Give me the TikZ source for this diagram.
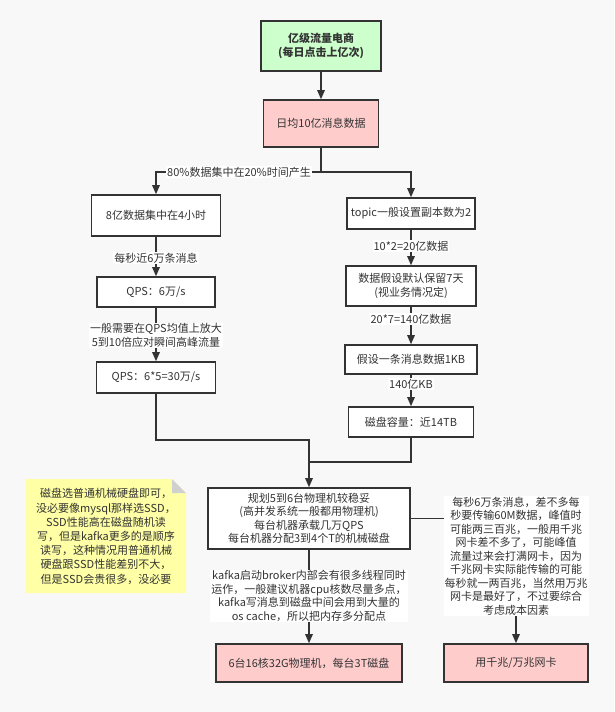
\documentclass[tikz,border=0pt]{standalone}
\usepackage{fontspec}
\setmainfont{Noto Sans CJK SC}
\usetikzlibrary{arrows.meta,shapes.geometric}
\definecolor{bgc}{RGB}{248,248,248}
\definecolor{edgec}{RGB}{51,51,51}
\definecolor{txtc}{RGB}{51,51,51}
\definecolor{greenf}{RGB}{204,255,204}
\definecolor{pinkf}{RGB}{255,204,204}
\definecolor{notef}{RGB}{255,255,166}
\definecolor{foldc}{RGB}{208,208,208}
\tikzset{
  box/.style={draw=edgec, line width=1.6pt, fill=white, align=center, text=txtc, inner sep=2pt, font=\fontsize{11}{13.4}\selectfont},
  lbl/.style={fill=white, align=center, text=txtc, inner sep=1pt, font=\fontsize{11}{13.4}\selectfont},
  conn/.style={draw=edgec, line width=1.3pt},
  arr/.style={conn, -{Triangle[length=9pt,width=7.5pt]}},
}
\begin{document}
\begin{tikzpicture}[x=1pt,y=-1pt]
\fill[bgc] (0,0) rectangle (614,712);
\useasboundingbox (0,0) rectangle (614,712);

% boxes
\node[box, fill=greenf, minimum width=120pt, minimum height=50pt, font=\fontsize{11}{14}\selectfont\bfseries] (top) at (321,46) {亿级流量电商\\(每日点击上亿次)};
\node[box, fill=pinkf, minimum width=115pt, minimum height=47pt] (daily) at (321,123.5) {日均10亿消息数据};

\node[box, minimum width=129pt, minimum height=41pt] (b8) at (156,215.5) {8亿数据集中在4小时};
\node[box, minimum width=118pt, minimum height=30pt] (qps1) at (156,292) {QPS：6万/s};
\node[box, minimum width=119pt, minimum height=31pt] (qps2) at (156,377.5) {QPS：6*5=30万/s};

\node[box, minimum width=128pt, minimum height=31pt] (topic) at (411,213.5) {topic一般设置副本数为2};
\node[box, minimum width=130pt, minimum height=40pt] (keep) at (411,286) {数据假设默认保留7天\\(视业务情况定)};
\node[box, minimum width=132pt, minimum height=29pt] (kb) at (411,359.5) {假设一条消息数据1KB};
\node[box, minimum width=125pt, minimum height=30pt] (disk) at (411,422) {磁盘容量：近14TB};

\node[box, minimum width=202pt, minimum height=61pt] (plan) at (309,518.5) {规划5到6台物理机较稳妥\\(高并发系统一般都用物理机)\\每台机器承载几万QPS\\每台机器分配3到4个T的机械磁盘};
\node[box, fill=pinkf, minimum width=186pt, minimum height=38pt] (srv) at (309,663) {6台16核32G物理机，每台3T磁盘};
\node[box, fill=pinkf, minimum width=144pt, minimum height=38pt] (nic) at (516,663) {用千兆/万兆网卡};

% note
\fill[notef] (26,479) -- (172,479) -- (186,493) -- (186,593) -- (26,593) -- cycle;
\fill[foldc] (172,479) -- (186,493) -- (172,493) -- cycle;
\node[align=center, text=txtc, font=\fontsize{11}{14.2}\selectfont, inner sep=0pt] (note) at (106,536.5) {磁盘选普通机械硬盘即可，\\没必要像mysql那样选SSD，\\SSD性能高在磁盘随机读\\写，但是kafka更多的是顺序\\读写，这种情况用普通机械\\硬盘跟SSD性能差别不大，\\但是SSD会贵很多，没必要};

% junctions
\coordinate (split) at (321,172);
\coordinate (sl) at (156,172);
\coordinate (sr) at (411,172);
\coordinate (jl) at (156,440);
\coordinate (jm) at (309,440);
\coordinate (jd) at (411,462);
\coordinate (jm2) at (309,462);
\coordinate (pr) at (516,518.5);

% connectors
\draw[arr] (top) -- (daily);
\draw[conn] (daily.south) -- (split);
\draw[arr] (split) -- (sl) -- (b8.north);
\draw[arr] (split) -- (sr) -- (topic.north);
\node[lbl] (l80) at (239,172) {80\%数据集中在20\%时间产生};

\draw[arr] (b8) -- (qps1);
\node[lbl] (l6w) at (156,258) {每秒近6万条消息};
\draw[arr] (qps1) -- (qps2);
\node[lbl] (lx5) at (156,335.5) {一般需要在QPS均值上放大\\5到10倍应对瞬间高峰流量};

\draw[arr] (topic) -- (keep);
\node[lbl] (l20) at (411,246) {10*2=20亿数据};
\draw[arr] (keep) -- (kb);
\node[lbl] (l140) at (411,319) {20*7=140亿数据};
\draw[arr] (kb) -- (disk);
\node[lbl] (l140kb) at (411,384) {140亿KB};

\draw[arr] (qps2.south) -- (jl) -- (jm) -- (plan.north);
\draw[conn] (disk.south) -- (jd) -- (jm2);

\draw[arr] (plan.south) -- (srv.north);
\node[lbl] (lkafka) at (309,596) {kafka启动broker内部会有很多线程同时\\运作，一般建议机器cpu核数尽量多点，\\kafka写消息到磁盘中间会用到大量的\\os cache，所以把内存多分配点};

\draw[arr] (plan.east) -- (pr) -- (nic.north);
\node[lbl, font=\fontsize{11}{13.5}\selectfont] (lnic) at (516,556) {每秒6万条消息，差不多每\\秒要传输60M数据，峰值时\\可能两三百兆，一般用千兆\\网卡差不多了，可能峰值\\流量过来会打满网卡，因为\\千兆网卡实际能传输的可能\\每秒就一两百兆，当然用万兆\\网卡是最好了，不过要综合\\考虑成本因素};
\end{tikzpicture}
\end{document}
